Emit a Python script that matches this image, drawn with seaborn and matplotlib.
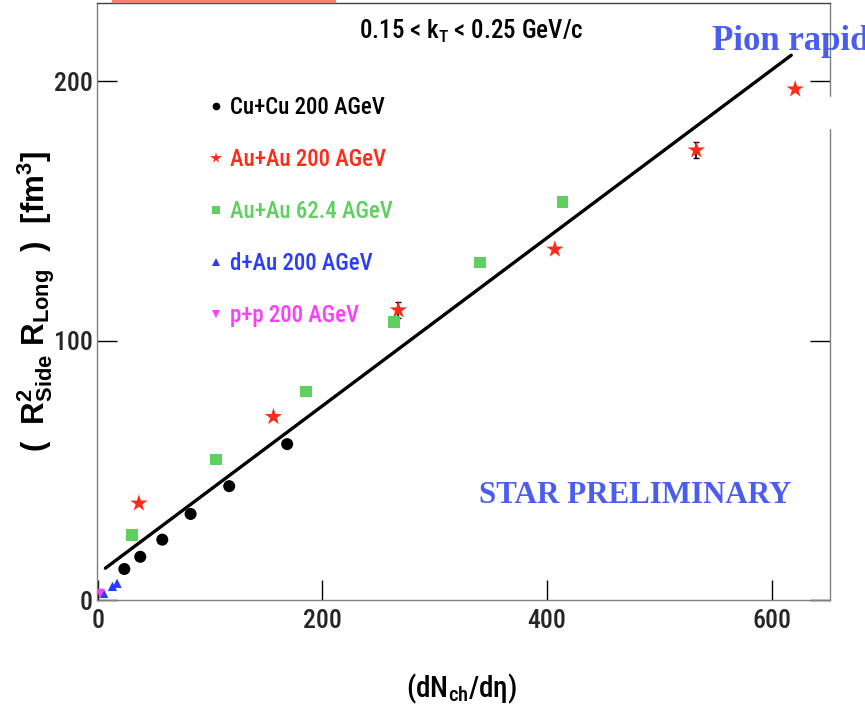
import matplotlib
matplotlib.use("Agg")
import matplotlib.pyplot as plt
from matplotlib import font_manager
from matplotlib.patches import Rectangle
from matplotlib.lines import Line2D
import seaborn as sns
import pandas as pd

# ---------------- data ----------------
cucu_x = [23.6, 37.8, 57.4, 82.6, 117.0, 168.6]
cucu_y = [12.1, 16.8, 23.4, 33.3, 44.0, 60.2]

au200_x = [36.6, 156.4, 267.6, 407.0, 533.0, 621.0]
au200_y = [37.4, 70.7, 111.8, 135.2, 173.4, 196.9]
au200_err = [0.0, 0.0, 3.0, 0.0, 3.0, 0.0]

au62_x = [30.7, 105.4, 185.5, 264.0, 340.2, 413.8]
au62_y = [25.3, 54.3, 80.4, 107.3, 130.2, 153.5]

dau_x = [5.2, 13.0, 17.1]
dau_y = [2.7, 5.4, 6.6]

pp_x = [2.2]
pp_y = [2.7]

fit_x = [6.7, 617.5]
fit_y = [12.4, 210.0]

labels = ["Cu+Cu 200 AGeV", "Au+Au 200 AGeV", "Au+Au 62.4 AGeV",
          "d+Au 200 AGeV", "p+p 200 AGeV"]
colors = ["#000000", "#ff2a1a", "#5fcf5f", "#2a3cff", "#ff3cff"]
markers = ["o", "*", "s", "^", "v"]
sizes = [75, 170, 70, 45, 45]

xticks = [0, 200, 400, 600]
yticks = [0, 100, 200]

# ---------------- fonts ----------------
names = {f.name for f in font_manager.fontManager.ttflist}
sans = "Roboto Condensed" if "Roboto Condensed" in names else "Liberation Sans"
wide = "Liberation Sans"
serif = "Liberation Serif"

sns.set_theme(style="white")
plt.rcParams["font.family"] = [sans, "DejaVu Sans"]
plt.rcParams["font.weight"] = 500
plt.rcParams["mathtext.fontset"] = "custom"
plt.rcParams["mathtext.rm"] = sans
plt.rcParams["mathtext.it"] = sans
plt.rcParams["mathtext.bf"] = sans + ":bold"
plt.rcParams["mathtext.default"] = "regular"

W, H = 865, 718
fig = plt.figure(figsize=(W / 100, H / 100), dpi=100)
ax = fig.add_axes([96.7 / W, 1 - 600.4 / H, (830 - 96.7) / W, (600.4 - 3.3) / H])

# fit line
fit_df = pd.DataFrame({"x": fit_x, "y": fit_y})
sns.lineplot(data=fit_df, x="x", y="y", ax=ax, color="black", lw=2.4, zorder=2)

series = [(cucu_x, cucu_y), (au200_x, au200_y), (au62_x, au62_y),
          (dau_x, dau_y), (pp_x, pp_y)]
ax.errorbar(au200_x, au200_y, yerr=au200_err, fmt="none", ecolor="black",
            elinewidth=1.2, capsize=2, zorder=3)
handles = []
for (xs, ys), lab, c, m, s in zip(series, labels, colors, markers, sizes):
    df = pd.DataFrame({"x": xs, "y": ys})
    sns.scatterplot(data=df, x="x", y="y", ax=ax, color=c, marker=m, s=s,
                    edgecolor="none", linewidth=0, zorder=4)
    handles.append(Line2D([], [], ls="none", marker=m, color=c,
                          markersize=5.5 if m != "*" else 8.5,
                          markeredgewidth=0))

ax.set_xlim(-1, 652)
ax.set_ylim(0, 230)
ax.set_xticks(xticks)
ax.set_yticks(yticks)
ax.set_xticklabels([str(t) for t in xticks])
ax.set_yticklabels([str(t) for t in yticks])
ax.set_xlabel("")
ax.set_ylabel("")
ax.tick_params(axis="both", direction="in", length=14.5, width=1.0,
               color="black", labelsize=18.5)
ax.tick_params(axis="y", right=True, left=True, pad=3)
ax.tick_params(axis="x", bottom=True, top=False, pad=6)
for t in ax.get_xticklabels() + ax.get_yticklabels():
    t.set_fontweight(500)
for sp in ax.spines.values():
    sp.set_color("#808080")
    sp.set_linewidth(1.0)
ax.spines["top"].set_color("#404040")

leg = ax.legend(handles, labels, loc="upper left",
                bbox_to_anchor=((209 - 96.7) / 733.3, 1 - (96 - 3.3) / 597.1),
                frameon=False, prop={"family": sans, "size": 16.5, "weight": 500},
                handlelength=0.6, handletextpad=0.3, labelspacing=1.27,
                borderpad=0, borderaxespad=0, labelcolor=colors)

# texts
fig.text(471 / W, 1 - 39 / H, r"0.15 < k$_{T}$ < 0.25 GeV/c", ha="center",
         va="baseline", fontsize=18, fontweight=500, color="black")
fig.text(712 / W, 1 - 50 / H, "Pion rapidity", ha="left", va="baseline",
         fontsize=25, family=serif, weight="bold", color="#4b5cf0")
fig.text(635.5 / W, 1 - 502.7 / H, "STAR PRELIMINARY", ha="center",
         va="baseline", fontsize=22.3, family=serif, weight="bold",
         color="#4b5cf0")
fig.text(36 / W, 1 - 301 / H,
         r"(  R$^{2}_{Side}$ R$_{Long}$  )  [fm$^{3}$]", rotation=90,
         ha="center", va="center", fontsize=22.5, family=wide, weight="bold",
         color="black")
fig.text(462 / W, 1 - 697 / H, r"(dN$_{ch}$/d$\eta$)", ha="center",
         va="baseline", fontsize=21, fontweight=500, color="black")

# artifacts: gap in right frame and red strip at top
fig.patches.append(Rectangle((824 / W, 1 - 128 / H), 12 / W, 31 / H,
                             transform=fig.transFigure, color="white",
                             zorder=10))
fig.patches.append(Rectangle((112 / W, 1 - 2 / H), 223 / W, 2 / H,
                             transform=fig.transFigure, color="#f08070",
                             zorder=10))

fig.savefig("out.png", dpi=100)
